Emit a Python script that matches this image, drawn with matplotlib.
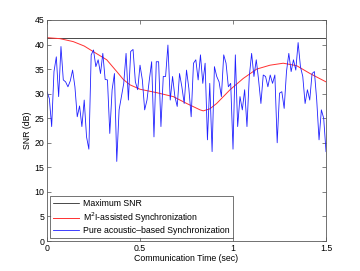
import numpy as np
import matplotlib.pyplot as plt

plt.rcParams['font.family'] = ['Liberation Sans', 'DejaVu Sans']

max_snr = 41.4

red_t = [0, 0.07, 0.141, 0.2, 0.247, 0.321, 0.375, 0.41, 0.446, 0.5, 0.590, 0.679, 0.751, 0.823,
         0.840, 0.875, 0.912, 0.984, 1.055, 1.127, 1.199, 1.270, 1.342, 1.414, 1.5]
red_snr = [41.4, 41.2, 40.6, 39.7, 38.6, 36.9, 34.5, 32.9, 31.8, 30.9, 30.2, 29.4, 28.0, 26.7,
           26.5, 26.9, 28.0, 30.8, 33.1, 35.0, 35.8, 36.2, 35.7, 34.1, 32.4]

blue_snr = [30.4, 29.0, 23.3, 34.5, 37.5, 29.4, 39.6, 32.8, 32.4, 31.4,
            32.6, 34.8, 31.4, 25.3, 27.5, 23.3, 28.7, 21.2, 18.7, 37.9,
            38.9, 35.5, 36.9, 34.1, 38.2, 32.9, 32.8, 21.9, 30.8, 34.1,
            16.2, 26.7, 29.4, 32.1, 38.2, 28.7, 38.6, 39.0, 32.4, 30.8,
            35.8, 32.8, 26.7, 28.7, 32.8, 36.5, 21.2, 36.5, 36.5, 23.3,
            33.5, 33.5, 39.9, 28.7, 33.5, 29.4, 27.4, 34.1, 31.4, 28.0,
            34.8, 31.1, 25.3, 36.2, 36.9, 32.8, 37.9, 32.1, 36.2, 20.6,
            32.1, 18.2, 35.5, 33.5, 32.4, 29.4, 37.9, 36.2, 31.4, 32.1,
            18.7, 37.9, 23.3, 29.4, 26.7, 30.8, 23.3, 33.5, 38.2, 33.5,
            36.9, 32.8, 28.0, 33.8, 33.5, 31.4, 33.8, 32.1, 33.8, 20.0,
            30.1, 30.4, 27.0, 34.5, 38.2, 34.5, 36.9, 34.8, 40.4, 35.5,
            33.5, 28.0, 30.8, 28.7, 34.1, 34.5, 28.7, 20.6, 26.7, 25.0,
            18.2]
blue_t = np.linspace(0, 1.5, len(blue_snr))

fig = plt.figure(figsize=(3.6, 2.71), dpi=100)
ax = fig.add_axes([0.1306, 0.1107, 0.775, 0.8155])

ax.plot([0, 1.5], [max_snr, max_snr], color='k', lw=0.5, label='Maximum SNR')
ax.plot(red_t, red_snr, color='#ff3030', lw=0.7, label='M$^2$I-assisted Synchronization')
ax.plot(blue_t, blue_snr, color='#2020ff', lw=0.6, label='Pure acoustic\u2013based Synchronization')

ax.set_xlim(0, 1.5)
ax.set_ylim(0, 45)
ax.set_xticks([0, 0.5, 1, 1.5])
ax.set_xticklabels(['0', '0.5', '1', '1.5'])
ax.set_yticks(range(0, 50, 5))
ax.tick_params(direction='in', top=True, right=True, labelsize=6.3, length=3,
               width=0.5, color='0.3', pad=2)
for s in ax.spines.values():
    s.set_linewidth(0.6)
    s.set_color('0.35')

ax.set_xlabel('Communication Time (sec)', fontsize=6.3, labelpad=1)
ax.set_ylabel('SNR (dB)', fontsize=6.3, labelpad=2)

leg = ax.legend(loc='lower left', fontsize=6.3, frameon=True, fancybox=False,
                handlelength=3.0, borderaxespad=0.3, borderpad=0.35,
                labelspacing=0.2, handletextpad=0.5)
leg.get_frame().set_edgecolor('0.2')
leg.get_frame().set_linewidth(0.6)

fig.savefig('out.png', dpi=100)
